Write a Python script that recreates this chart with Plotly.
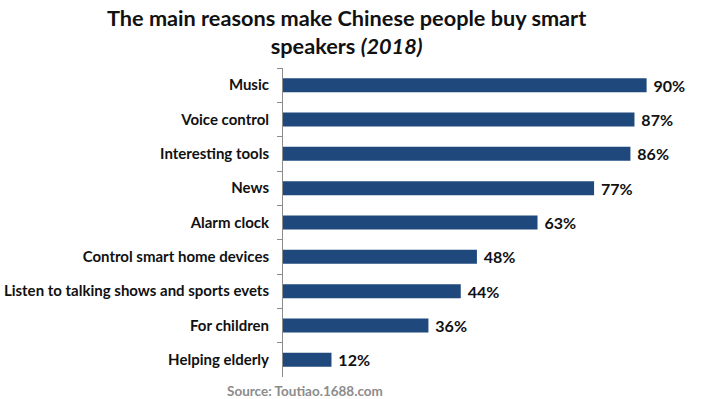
import plotly.graph_objects as go

categories = ["Music", "Voice control", "Interesting tools", "News", "Alarm clock",
              "Control smart home devices", "Listen to talking shows and sports evets",
              "For children", "Helping elderly"]
values = [90, 87, 86, 77, 63, 48, 44, 36, 12]
labels = [f" {v}%" for v in values]

fig = go.Figure(go.Bar(
    x=values, y=categories, orientation="h",
    marker=dict(color="#1f497d", line=dict(width=0)),
    text=labels, textposition="outside", cliponaxis=False, constraintext="none",
    textfont=dict(family="Lato", size=16, color="#111111", weight="bold"),
))

fig.update_layout(
    width=726, height=399,
    margin=dict(l=283, r=39, t=68, b=22),
    paper_bgcolor="white", plot_bgcolor="white",
    bargap=0.59,
    showlegend=False,
    font=dict(family="Lato"),
)
fig.update_xaxes(range=[0, 100], visible=False, automargin=False)
fig.update_yaxes(
    autorange="reversed", showline=True, linecolor="#8c8c8c", linewidth=1,
    ticks="outside", tickson="boundaries", ticklen=5, tickcolor="#8c8c8c",
    ticklabelstandoff=10, automargin=False,
    tickfont=dict(family="Lato", size=15, color="#111111", weight="bold"),
    showgrid=False,
)
fig.add_annotation(
    text="The main reasons make Chinese people buy smart<br>speakers <i>(2018)</i>",
    xref="paper", yref="paper", x=0.156, y=1 + 65 / 309,
    xanchor="center", yanchor="top", showarrow=False, align="center",
    font=dict(family="Lato", size=21.7, color="#111111", weight="bold"),
)
fig.add_annotation(
    text="Source: Toutiao.1688.com", xref="paper", yref="paper",
    x=0.054, y=-14 / 309, xanchor="center", yanchor="middle", showarrow=False,
    font=dict(family="Lato", size=13.5, color="#8c8c8c", weight="bold"),
)
fig.write_html("out.html", post_script="document.body.style.margin='0';",
               config={"displayModeBar": False})
